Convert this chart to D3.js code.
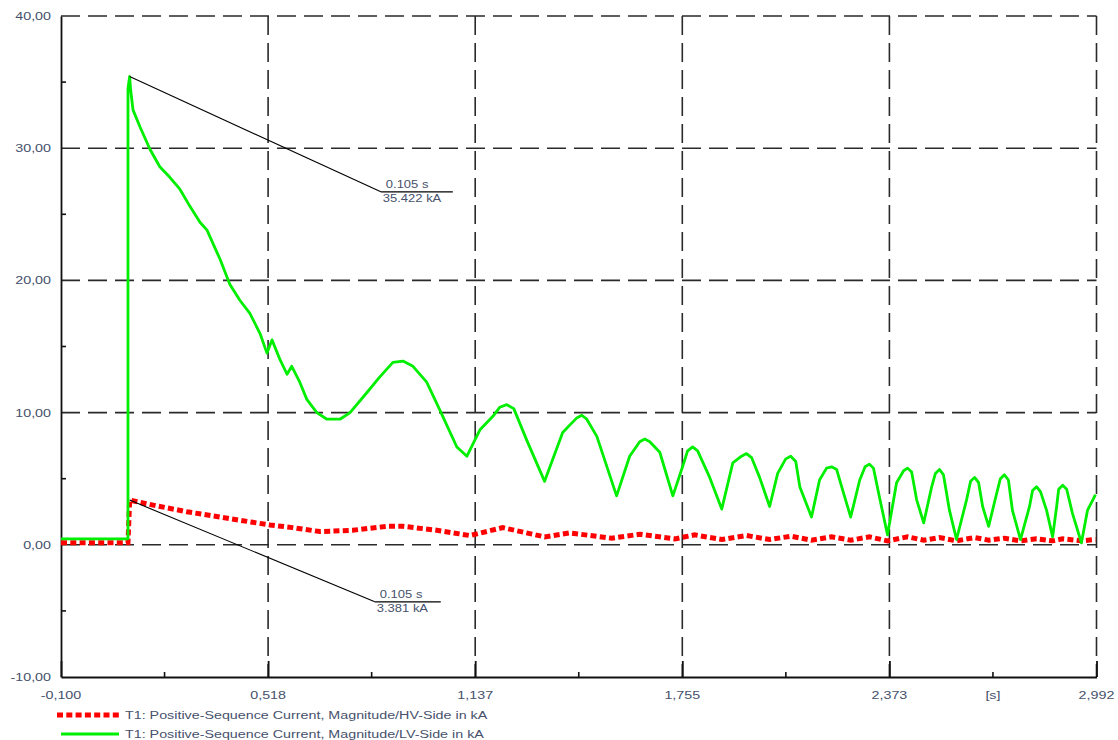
<!DOCTYPE html>
<html>
<head>
<meta charset="utf-8">
<script src="https://cdn.jsdelivr.net/npm/d3@7"></script>
<style>
  html, body { margin: 0; padding: 0; background: #fff; }
  svg { display: block; }
  text { font-family: "Liberation Sans", Arial, sans-serif; fill: #46516c; }
</style>
</head>
<body>
<svg id="chart" width="1118" height="740"></svg>
<script>
// ---------- data ----------
const xTickValues = [-0.1, 0.5184, 1.1368, 1.7552, 2.3736, 2.992];
const xTickLabels = ["-0,100", "0,518", "1,137", "1,755", "2,373", "2,992"];
const xUnitLabel = "[s]";
const yTickValues = [-10, 0, 10, 20, 30, 40];
const yTickLabels = ["-10,00", "0,00", "10,00", "20,00", "30,00", "40,00"];

const seriesNames = [
  "T1: Positive-Sequence Current, Magnitude/HV-Side in kA",
  "T1: Positive-Sequence Current, Magnitude/LV-Side in kA"
];

// HV side (red, dotted)
const hvTime = [-0.1, 0.1, 0.105, 0.175, 0.276, 0.375, 0.473, 0.524, 0.592, 0.673, 0.771, 0.873, 0.921,
  1.022, 1.121, 1.219, 1.344, 1.419, 1.544, 1.628, 1.733, 1.792, 1.873, 1.947, 2.016, 2.079, 2.141,
  2.201, 2.258, 2.314, 2.368, 2.428, 2.476, 2.523, 2.574, 2.628, 2.670, 2.717, 2.765, 2.813, 2.861,
  2.891, 2.947, 2.989];
const hvValue = [0.15, 0.15, 3.381, 3.0, 2.5, 2.1, 1.7, 1.5, 1.3, 1.0, 1.1, 1.4, 1.4,
  1.1, 0.7, 1.3, 0.6, 0.9, 0.5, 0.8, 0.45, 0.75, 0.4, 0.7, 0.4, 0.65, 0.35,
  0.6, 0.35, 0.6, 0.3, 0.6, 0.35, 0.55, 0.3, 0.55, 0.35, 0.5, 0.3, 0.45, 0.3,
  0.45, 0.3, 0.4];

// LV side (green, solid)
const lvTime = [-0.1, 0.1, 0.1, 0.105, 0.108, 0.115, 0.136, 0.166, 0.195, 0.225, 0.255, 0.285, 0.315,
  0.336, 0.366, 0.375, 0.404, 0.434, 0.464, 0.494, 0.515, 0.530, 0.554, 0.575, 0.589, 0.613, 0.634,
  0.664, 0.694, 0.733, 0.763, 0.813, 0.852, 0.891, 0.921, 0.951, 0.992,
  1.031, 1.082, 1.112, 1.151, 1.189, 1.210, 1.231, 1.252, 1.291, 1.344, 1.398, 1.440, 1.455, 1.470,
  1.500, 1.559, 1.598, 1.628, 1.643, 1.658, 1.688, 1.727, 1.756, 1.771, 1.786, 1.801, 1.837, 1.873,
  1.906, 1.932, 1.947, 1.962, 1.986, 2.016, 2.040, 2.064, 2.079, 2.094, 2.106, 2.141, 2.165, 2.186,
  2.201, 2.216, 2.231, 2.258, 2.285, 2.301, 2.314, 2.326, 2.344, 2.368, 2.395, 2.416, 2.428, 2.440,
  2.455, 2.476, 2.500, 2.511, 2.523, 2.535, 2.553, 2.574, 2.604, 2.616, 2.628, 2.640, 2.652, 2.670,
  2.694, 2.705, 2.717, 2.729, 2.741, 2.765, 2.792, 2.801, 2.813, 2.825, 2.843, 2.861, 2.873, 2.879,
  2.891, 2.903, 2.920, 2.947, 2.965, 2.989];
const lvValue = [0.45, 0.45, 34.5, 35.422, 34.4, 32.9, 31.6, 29.9, 28.6, 27.8, 26.9, 25.6, 24.4,
  23.8, 22.1, 21.6, 19.7, 18.5, 17.5, 16.0, 14.5, 15.5, 14.0, 12.9, 13.5, 12.3, 11.0,
  10.0, 9.5, 9.5, 10.0, 11.5, 12.7, 13.8, 13.9, 13.5, 12.3,
  10.2, 7.4, 6.7, 8.7, 9.7, 10.4, 10.6, 10.3, 7.9, 4.8, 8.5, 9.6, 9.8, 9.5,
  8.2, 3.7, 6.7, 7.8, 8.0, 7.8, 7.0, 3.7, 5.9, 7.1, 7.4, 7.1, 5.1, 2.7,
  6.2, 6.7, 6.9, 6.6, 5.1, 2.9, 5.4, 6.5, 6.7, 6.3, 4.4, 2.1, 4.9, 5.8,
  5.9, 5.7, 4.4, 2.1, 4.9, 5.9, 6.1, 5.8, 3.6, 0.75, 4.7, 5.6, 5.8, 5.5,
  3.4, 1.66, 4.4, 5.4, 5.7, 5.3, 2.6, 0.4, 3.4, 4.8, 5.1, 4.7, 2.9, 1.4,
  3.9, 5.0, 5.3, 4.9, 2.6, 0.4, 2.9, 4.1, 4.4, 4.0, 2.6, 0.6, 2.9, 4.2,
  4.5, 4.2, 2.4, 0.15, 2.6, 3.8];

// Annotations: marked point, label anchor (data units), underline end, texts
const annPointT = [0.105, 0.105];
const annPointV = [35.422, 3.381];
const annLabelT = [0.855, 0.837];
const annLabelV = [26.7, -4.31];
const annLabelEndT = [1.070, 1.034];
const annTextTop = ["0.105 s", "0.105 s"];
const annTextBottom = ["35.422 kA", "3.381 kA"];

// ---------- layout ----------
const svg = d3.select("#chart");
const plotLeft = 61, plotRight = 1096.5, plotTop = 16, plotBottom = 677;
const x = d3.scaleLinear().domain([-0.1, 2.992]).range([plotLeft, plotRight]);
const y = d3.scaleLinear().domain([-10, 40]).range([plotBottom, plotTop]);
const SX = 1.3; // horizontal stretch of the original's text

function label(g, px, py, str, anchor, size) {
  g.append("text")
    .attr("transform", `translate(${px},${py}) scale(${SX},1)`)
    .attr("text-anchor", anchor)
    .style("font-size", size + "px")
    .text(str);
}

svg.append("rect").attr("width", 1118).attr("height", 740).attr("fill", "#fff");

// grid
const grid = svg.append("g").attr("stroke", "#2a2a2a").attr("stroke-width", 1.6)
  .attr("stroke-dasharray", "19,8").attr("fill", "none");
yTickValues.filter(v => v > -10).forEach(v => {
  grid.append("line").attr("x1", x(-0.1)).attr("x2", x(2.992)).attr("y1", y(v)).attr("y2", y(v));
});
xTickValues.filter(v => v > -0.1).forEach(v => {
  grid.append("line").attr("x1", x(v)).attr("x2", x(v)).attr("y1", y(40)).attr("y2", y(-10));
});

// axes via d3
const xAxis = d3.axisBottom(x).tickValues(xTickValues).tickSize(-16).tickSizeOuter(0).tickFormat("");
const xg = svg.append("g").attr("transform", `translate(0,${plotBottom})`).call(xAxis);
const yAxis = d3.axisLeft(y).tickValues(yTickValues).tickSize(0).tickSizeOuter(0).tickFormat("");
const yg = svg.append("g").attr("transform", `translate(${plotLeft},0)`).call(yAxis);
[xg, yg].forEach(g => {
  g.select(".domain").attr("stroke", "#111").attr("stroke-width", 1.8);
  g.selectAll(".tick line").attr("stroke", "#111").attr("stroke-width", 1.8);
});
// minor ticks
const xMinor = d3.pairs(xTickValues).map(p => (p[0] + p[1]) / 2);
const yMinor = d3.pairs(yTickValues).map(p => (p[0] + p[1]) / 2);
const minorG = svg.append("g").attr("stroke", "#111").attr("stroke-width", 1.6);
xMinor.forEach(v => minorG.append("line").attr("x1", x(v)).attr("x2", x(v)).attr("y1", plotBottom).attr("y2", plotBottom - 5));
yMinor.forEach(v => minorG.append("line").attr("x1", plotLeft).attr("x2", plotLeft + 5).attr("y1", y(v)).attr("y2", y(v)));

// tick labels
const lab = svg.append("g");
yTickValues.forEach((v, i) => label(lab, 51, y(v) + 4, yTickLabels[i], "end", 11));
xTickValues.forEach((v, i) => label(lab, x(v), 699, xTickLabels[i], "middle", 11));
label(lab, x(xMinor[xMinor.length - 1]), 699, xUnitLabel, "middle", 11);

// series
const hvData = hvTime.map((t, i) => [t, hvValue[i]]);
const lvData = lvTime.map((t, i) => [t, lvValue[i]]);
const line = d3.line().x(d => x(d[0])).y(d => y(d[1]));

svg.append("path").datum(hvData).attr("d", line)
  .attr("fill", "none").attr("stroke", "#ff0000").attr("stroke-width", 5)
  .attr("stroke-dasharray", "6,3.3");
svg.append("path").datum(lvData).attr("d", line)
  .attr("fill", "none").attr("stroke", "#00ee00").attr("stroke-width", 2.8)
  .attr("stroke-linejoin", "round");

// annotations
const ann = svg.append("g");
annPointT.forEach((t, i) => {
  const x0 = x(t), y0 = y(annPointV[i]);
  const x1 = x(annLabelT[i]), y1 = y(annLabelV[i]);
  const x2 = x(annLabelEndT[i]);
  ann.append("line").attr("x1", x0).attr("y1", y0).attr("x2", x1).attr("y2", y1)
    .attr("stroke", "#000").attr("stroke-width", 1.1);
  ann.append("line").attr("x1", x1).attr("y1", y1).attr("x2", x2).attr("y2", y1)
    .attr("stroke", "#000").attr("stroke-width", 1.3);
  label(ann, x1 + 5, y1 - 4, annTextTop[i], "start", 10);
  label(ann, x1 + 2, y1 + 10, annTextBottom[i], "start", 10);
});

// legend
const leg = svg.append("g");
leg.append("line").attr("x1", 57).attr("x2", 121).attr("y1", 715).attr("y2", 715)
  .attr("stroke", "#ff0000").attr("stroke-width", 5).attr("stroke-dasharray", "6,3.3");
label(leg, 125, 719, seriesNames[0], "start", 11);
leg.append("line").attr("x1", 61).attr("x2", 119).attr("y1", 734).attr("y2", 734)
  .attr("stroke", "#00ee00").attr("stroke-width", 2.8);
label(leg, 125, 738, seriesNames[1], "start", 11);
</script>
</body>
</html>
